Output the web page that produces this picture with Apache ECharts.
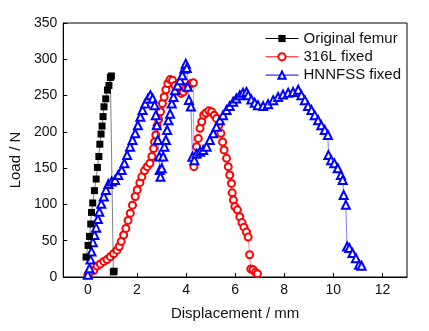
<!DOCTYPE html>
<html><head><meta charset="utf-8">
<script src="https://cdn.jsdelivr.net/npm/echarts@6/dist/echarts.min.js"></script>
<style>html,body{margin:0;padding:0;background:#fff}#c{width:429px;height:331px}</style>
</head><body><div id="c"></div>
<script>
var seriesNames = ['Original femur', '316L fixed', 'HNNFSS fixed'];
var xTicks = [0, 2, 4, 6, 8, 10, 12];

var femurX = [-0.07,0.01,0.07,0.12,0.15,0.2,0.27,0.34,0.39,0.45,0.49,0.54,0.58,0.62,0.66,0.73,0.8,0.86,0.92,0.96,1.04,1.07];
var femurY = [27.5,43.5,56,73,89,102,119,135,151,166,183,197,208,221,234.5,245.5,257.5,264,275,277,7,8];

var l316X = [0,0.07,0.24,0.38,0.51,0.65,0.78,0.92,1.05,1.19,1.28,1.36,1.46,1.55,1.64,1.73,1.82,1.93,2.01,2.12,2.2,2.31,2.42,2.53,2.61,2.68,2.72,2.77,2.82,2.88,2.96,3.04,3.11,3.18,3.26,3.35,3.45,3.55,3.69,3.8,3.89,3.99,4.09,4.2,4.3,4.32,4.43,4.5,4.57,4.64,4.72,4.81,4.93,5.04,5.15,5.24,5.34,5.42,5.49,5.55,5.65,5.72,5.78,5.85,5.88,5.93,5.99,6.09,6.19,6.28,6.36,6.46,6.53,6.59,6.64,6.73,6.83,6.91];
var l316Y = [3,6,9,15,18,21.5,24,28,32,37,42,49,58,67,78,88,99,111,120,130,138,146.6,152,156.7,166,177,186,195.6,208,217,227.7,239,248,258,266.6,272,271,264,257,253,255,260,263,266.6,267.5,152,179.6,191,204.8,214,223,226,229,227.7,223,218.5,209,198,186,175,163.5,152,140.6,129,116,106,97,92.5,83,75,68.7,62,55,30.7,11,10,6.4,4.6];

var hnX = [0,0.07,0.11,0.15,0.2,0.27,0.34,0.41,0.47,0.55,0.65,0.74,0.84,0.97,1.11,1.24,1.38,1.49,1.6,1.72,1.82,1.93,2.04,2.14,2.23,2.34,2.45,2.55,2.64,2.72,2.77,2.81,2.85,2.91,2.93,2.96,3.01,3.07,3.12,3.18,3.23,3.28,3.35,3.42,3.49,3.55,3.66,3.76,3.85,3.93,3.99,4.03,4.07,4.12,4.2,4.26,4.34,4.43,4.57,4.7,4.84,4.97,5.11,5.24,5.38,5.51,5.65,5.78,5.92,6.05,6.19,6.32,6.46,6.53,6.66,6.8,6.93,7.14,7.34,7.55,7.75,7.95,8.16,8.36,8.57,8.7,8.84,8.97,9.11,9.24,9.38,9.51,9.65,9.78,9.8,9.91,10.04,10.18,10.31,10.38,10.42,10.51,10.56,10.65,10.78,10.92,11.05,11.15];
var hnY = [3,12,24,35,48,58,68,80,90,100.8,111,120,128,131.5,133.8,140.6,147.5,156.7,168,179.6,188.7,198,209,220.8,230,239,246,250.6,246,236.8,223,209,188.7,166,147.5,138,149.8,166,179.6,188.7,202.5,216,225,239,248,257.5,264,271,278,287,294,288,262,244,235,165.8,161,170,172.7,175,179.6,188.7,198,207,216,223,230,235.5,241.4,246,250.6,253.8,255,250.6,244.6,240,236.8,235.5,238,243.7,248,251.5,253.8,255,258,250.6,243.7,235.5,230,223,216,209,202.5,195.6,168,161,156.7,149.8,140.6,133.8,113,99.4,42,40,33,26,17,15.6];

function pairs(xs, ys) { return xs.map(function (x, i) { return [x, ys[i]]; }); }

var font = 'Liberation Sans, Arial, sans-serif';
var chart = echarts.init(document.getElementById('c'), null, {renderer: 'canvas'});
chart.setOption({
  animation: false,
  backgroundColor: '#fff',
  grid: {left: 60, right: 22, top: 23, bottom: 54, show: true, borderColor: '#000', borderWidth: 1},
  legend: {
    orient: 'vertical', left: 260, top: 26, itemWidth: 33, itemHeight: 9, itemGap: 3.3,
    textStyle: {fontFamily: font, fontSize: 15, color: '#111'},
    lineStyle: {opacity: 1, width: 1},
    data: seriesNames
  },
  xAxis: {
    type: 'value', min: -1, max: 13,
    name: 'Displacement / mm', nameLocation: 'middle', nameGap: 29,
    nameTextStyle: {fontFamily: font, fontSize: 15, color: '#111'},
    axisLine: {onZero: false, lineStyle: {color: '#000'}},
    axisTick: {inside: true, length: 4, lineStyle: {color: '#000'}, customValues: xTicks},
    axisLabel: {fontFamily: font, fontSize: 14, color: '#111', margin: 6, customValues: xTicks},
    splitLine: {show: false}
  },
  yAxis: {
    type: 'value', min: 0, max: 350, interval: 50,
    name: 'Load / N', nameLocation: 'middle', nameGap: 36, nameRotate: 90,
    nameTextStyle: {fontFamily: font, fontSize: 15, color: '#111', padding: [0, 20, 0, 0]},
    axisLine: {show: true, onZero: false, lineStyle: {color: '#000'}},
    axisTick: {show: true, inside: true, length: 4, lineStyle: {color: '#000'}},
    axisLabel: {fontFamily: font, fontSize: 14, color: '#111', margin: 6},
    splitLine: {show: false}
  },
  series: [
    {
      name: seriesNames[0], type: 'line', z: 5, data: pairs(femurX, femurY),
      symbol: 'rect', symbolSize: 7, showAllSymbol: true,
      itemStyle: {color: '#000', borderWidth: 0},
      lineStyle: {color: '#000', width: 1, opacity: 0.5}
    },
    {
      name: seriesNames[1], type: 'line', z: 3, data: pairs(l316X, l316Y),
      symbol: 'emptyCircle', symbolSize: 7, showAllSymbol: true,
      itemStyle: {color: '#ff0000', borderColor: '#ff0000', borderWidth: 1.2},
      lineStyle: {color: '#ff0000', width: 1, opacity: 0.45}
    },
    {
      name: seriesNames[2], type: 'line', z: 4, data: pairs(hnX, hnY),
      symbol: 'emptyTriangle', symbolSize: 8, showAllSymbol: true,
      itemStyle: {color: '#0000ff', borderColor: '#0000ff', borderWidth: 1.2},
      lineStyle: {color: '#0000ff', width: 1, opacity: 0.5}
    }
  ]
});
</script>
</body></html>
